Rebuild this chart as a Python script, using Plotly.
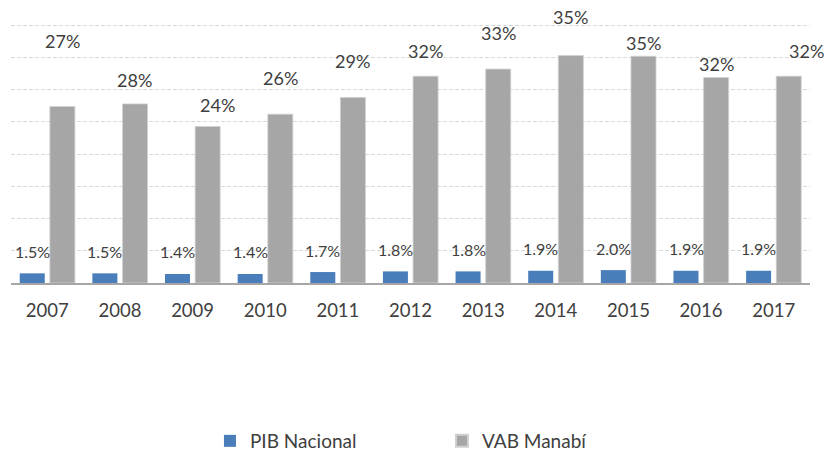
import plotly.graph_objects as go

years = ["2007", "2008", "2009", "2010", "2011", "2012", "2013", "2014", "2015", "2016", "2017"]
pib_nacional = [1.5, 1.5, 1.4, 1.4, 1.7, 1.8, 1.8, 1.9, 2.0, 1.9, 1.9]
vab_manabi = [27.4, 27.8, 24.3, 26.2, 28.8, 32.1, 33.2, 35.3, 35.2, 31.9, 32.1]
pib_labels = ["1.5%", "1.5%", "1.4%", "1.4%", "1.7%", "1.8%", "1.8%", "1.9%", "2.0%", "1.9%", "1.9%"]
vab_labels = ["27%", "28%", "24%", "26%", "29%", "32%", "33%", "35%", "35%", "32%", "32%"]

# label placement (pixel offsets above bar tops, as in the reference)
vab_label_dy = [65, 24, 21, 36, 36, 25, 36, 39, 13, 13, 25]
vab_label_dx = [0, 0, 10, 0, 0, 0, 0, 0, 0, 0, 18]

BLUE = "#4a7ebb"
GRAY = "#a6a6a6"
TXT = "#404040"
FONT = "Lato, 'Open Sans', sans-serif"

fig = go.Figure()
fig.add_trace(go.Bar(x=years, y=pib_nacional, name="PIB Nacional",
                     marker=dict(color=BLUE, line=dict(width=0))))
fig.add_trace(go.Bar(x=years, y=vab_manabi, name="VAB Manabí",
                     marker=dict(color=GRAY, line=dict(color="#d0d0d0", width=0.8))))

annotations = []
for i, yr in enumerate(years):
    annotations.append(dict(x=i, y=pib_nacional[i], text=pib_labels[i], showarrow=False,
                            xref="x", yref="y", xshift=-15, yshift=22, yanchor="middle",
                            font=dict(family=FONT, size=16, color=TXT)))
    annotations.append(dict(x=i, y=vab_manabi[i], text=vab_labels[i], showarrow=False,
                            xref="x", yref="y", xshift=15 + vab_label_dx[i],
                            yshift=vab_label_dy[i], yanchor="middle",
                            font=dict(family=FONT, size=18, color=TXT)))

fig.update_layout(
    width=826, height=452,
    margin=dict(l=11, r=16, t=24, b=169, autoexpand=False),
    paper_bgcolor="white", plot_bgcolor="white",
    barmode="group", bargap=0.17, bargroupgap=0.17,
    font=dict(family=FONT, color=TXT),
    showlegend=True,
    legend=dict(orientation="h", x=0.249, xanchor="left", y=-0.61, yanchor="middle",
                font=dict(family=FONT, size=19, color=TXT),
                entrywidth=187, entrywidthmode="pixels", itemsizing="constant"),
    annotations=annotations,
    xaxis=dict(type="category", range=[-0.5, len(years) - 0.5], showgrid=False,
               showline=True, linecolor="#a6a6a6", linewidth=1.5, ticks="",
               tickfont=dict(family=FONT, size=18.5, color=TXT), ticklabelstandoff=10),
    yaxis=dict(range=[0, 40.2], tick0=0, dtick=5, showgrid=True, gridcolor="#d9d9d9",
               griddash="4px,2px", gridwidth=1, showticklabels=False, zeroline=False,
               showline=False),
)

fig.write_html("out.html", config={"displayModeBar": False},
               post_script="document.body.style.margin='0';")
